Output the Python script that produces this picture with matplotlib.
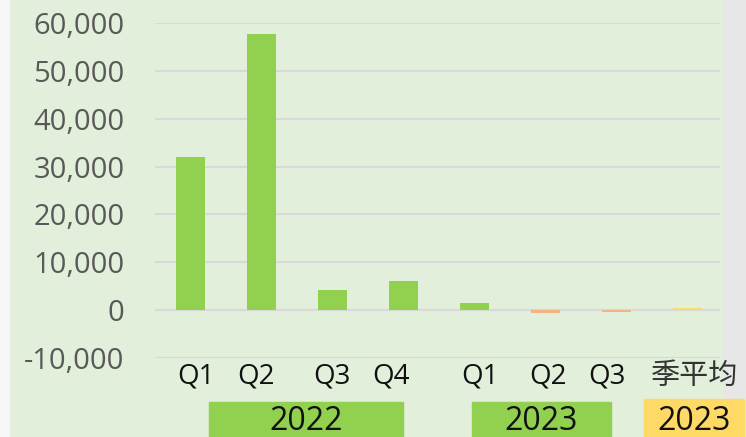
import matplotlib
matplotlib.use("Agg")
import matplotlib.pyplot as plt
from matplotlib.patches import Rectangle
from matplotlib import font_manager

categories = ["Q1", "Q2", "Q3", "Q4", "Q1", "Q2", "Q3", "季平均"]
values = [32000, 57800, 4200, 6000, 1400, -600, -400, 400]
bar_colors = ["#92D050", "#92D050", "#92D050", "#92D050", "#92D050", "#F4B183", "#F4B183", "#FFD966"]
yticks = [-10000, 0, 10000, 20000, 30000, 40000, 50000, 60000]
year_groups = ["2022", "2023", "2023"]

names = {f.name for f in font_manager.fontManager.ttflist}
num_font = "Liberation Sans Narrow" if "Liberation Sans Narrow" in names else "Open Sans"

W, H = 746, 437
fig = plt.figure(figsize=(W / 100, H / 100), dpi=100)
fig.patch.set_facecolor("#F2F2F2")

def fx(px):
    return px / W

def fy(py):
    return 1 - py / H

# background panels
fig.add_artist(Rectangle((0, 0), fx(10), 1, transform=fig.transFigure, color="#F7F7F7", zorder=0))
fig.add_artist(Rectangle((fx(10), 0), fx(723) - fx(10), 1, transform=fig.transFigure, color="#E2EFDA", zorder=0))
fig.add_artist(Rectangle((fx(723), 0), 1 - fx(723), 1, transform=fig.transFigure, color="#E7E7E7", zorder=0))

ax = fig.add_axes([fx(155), fy(358), fx(720) - fx(155), fy(23) - fy(358)])
ax.set_facecolor("none")
x = list(range(len(categories)))
ax.bar(x, values, width=0.41, color=bar_colors, zorder=3)
ax.set_xlim(-0.5, 7.46)
ax.set_ylim(-10000, 60000)
ax.set_yticks(yticks)
ax.set_yticklabels([f"{v:,}" for v in yticks], fontsize=21, color="#595959", family=num_font)
ax.yaxis.grid(True, color="#D9D9D9", linewidth=1.5, zorder=0)
ax.axhline(0, color="#D9D9D9", linewidth=1.5, zorder=1)
for s in ax.spines.values():
    s.set_visible(False)
ax.tick_params(axis="both", length=0)
ax.tick_params(axis="y", pad=22)
ax.set_xticks([])

# category labels (pixel centres as laid out in the reference)
label_px = [196, 256, 332, 391, 480, 548, 607, 695]
for px, c in zip(label_px, categories):
    if c == "季平均":
        fig.text(fx(px), fy(376), c, ha="center", va="center", fontsize=21, color="#333333",
                 family=["Noto Sans CJK SC", "DejaVu Sans"], zorder=5)
    else:
        fig.text(fx(px), fy(376), c, ha="center", va="center", fontsize=20, color="#111111",
                 family=num_font, zorder=5)

# year boxes
boxes = [(209, 403, 402, "#92D050"), (472, 611, 402, "#92D050"), (644, 744, 399, "#FFD966")]
for (x0, x1, top, col), label in zip(boxes, year_groups):
    fig.add_artist(Rectangle((fx(x0), 0), fx(x1) - fx(x0), fy(top), transform=fig.transFigure,
                             color=col, zorder=2))
    fig.text((fx(x0) + fx(x1)) / 2, fy(421), label, ha="center", va="center", fontsize=23,
             color="#111111", family=num_font, zorder=3)

fig.savefig("out.png", dpi=100, facecolor=fig.get_facecolor())
